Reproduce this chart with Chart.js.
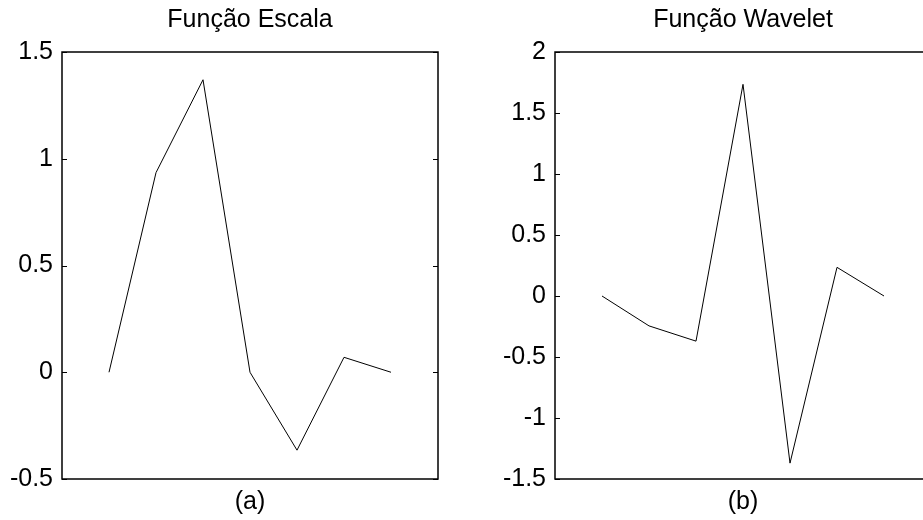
<!DOCTYPE html>
<html>
<head>
<meta charset="utf-8">
<script src="https://cdn.jsdelivr.net/npm/chart.js@4.4.1/dist/chart.umd.min.js"></script>
<style>
  html, body { margin: 0; padding: 0; background: #fff; overflow: hidden; }
  body { width: 923px; height: 520px; position: relative; }
  .panel { position: absolute; top: 0; width: 462px; height: 520px; }
</style>
</head>
<body>
<div class="panel" style="left:0"><canvas id="scaleChart"></canvas></div>
<div class="panel" style="left:493px"><canvas id="waveChart"></canvas></div>
<script>
// sample positions shared by both plots
const samples = [0, 1, 2, 3, 4, 5, 6];

// Função Escala (scaling function)
const scaleValues = [0, 0.935, 1.37, 0, -0.365, 0.07, 0];
const scaleTicks = [-0.5, 0, 0.5, 1, 1.5];

// Função Wavelet
const waveValues = [0, -0.245, -0.37, 1.735, -1.37, 0.235, 0];
const waveTicks = [-1.5, -1, -0.5, 0, 0.5, 1, 1.5, 2];

Chart.defaults.font.family = "'Liberation Sans', Arial, sans-serif";
Chart.defaults.font.size = 25;
Chart.defaults.color = '#000';

// box around the plot + inward tick marks on both sides
const boxTicks = {
  id: 'boxTicks',
  afterDraw(chart) {
    const { ctx, chartArea: a, scales } = chart;
    const y = scales.y;
    ctx.save();
    ctx.strokeStyle = '#000';
    ctx.lineWidth = 1;
    y.ticks.forEach((t) => {
      const py = Math.round(y.getPixelForValue(t.value)) + 0.5;
      ctx.beginPath();
      ctx.moveTo(a.left, py); ctx.lineTo(a.left + 5, py);
      ctx.moveTo(a.right, py); ctx.lineTo(a.right - 5, py);
      ctx.stroke();
    });
    ctx.lineWidth = 1.5;
    ctx.strokeRect(a.left, a.top, a.right - a.left, a.bottom - a.top);
    ctx.restore();
  }
};

function makePanel(id, title, label, values, ticks) {
  const ctx = document.getElementById(id).getContext('2d');
  return new Chart(ctx, {
    type: 'line',
    data: {
      datasets: [{
        data: samples.map((x, i) => ({ x: x, y: values[i] })),
        borderColor: '#000',
        borderWidth: 1,
        pointRadius: 0,
        tension: 0,
        fill: false
      }]
    },
    options: {
      responsive: true,
      maintainAspectRatio: false,
      animation: false,
      layout: { padding: { left: 0, right: 24, top: 0, bottom: 0 } },
      plugins: {
        legend: { display: false },
        tooltip: { enabled: false },
        title: {
          display: true,
          text: title,
          fullSize: false,
          font: { size: 25, weight: 'normal' },
          padding: { top: 5, bottom: 17 }
        }
      },
      scales: {
        x: {
          type: 'linear',
          min: -1,
          max: 7,
          grid: { display: false },
          border: { display: false },
          ticks: { display: false },
          title: { display: true, text: label, font: { size: 25 }, padding: { top: 0, bottom: 3 } },
          afterFit: (s) => { s.height = 41; }
        },
        y: {
          min: ticks[0],
          max: ticks[ticks.length - 1],
          afterBuildTicks: (s) => { s.ticks = ticks.map((v) => ({ value: v })); },
          grid: { display: true, drawOnChartArea: false, drawTicks: false, color: 'rgba(0,0,0,0)' },
          border: { display: false },
          ticks: { padding: 9, font: { size: 25 }, callback: (v) => String(v) },
          afterFit: (s) => { s.width = 62; }
        }
      }
    },
    plugins: [boxTicks]
  });
}

makePanel('scaleChart', 'Função Escala', '(a)', scaleValues, scaleTicks);
makePanel('waveChart', 'Função Wavelet', '(b)', waveValues, waveTicks);
</script>
</body>
</html>
